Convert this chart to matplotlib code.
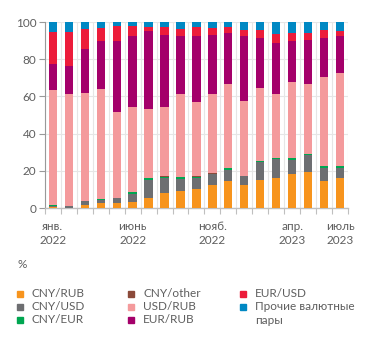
import matplotlib
matplotlib.use('Agg')
import matplotlib.pyplot as plt
import numpy as np

plt.rcParams['font.family'] = ['Lato', 'DejaVu Sans']

months = ['янв.\n2022', '', '', '', '', 'июнь\n2022', '', '', '', '', 'нояб.\n2022', '',
          '', '', '', 'апр.\n2023', '', '', 'июль\n2023']

cny_rub = [0.7, 0.3, 1.6, 2.7, 2.7, 3.4, 5.2, 8.2, 9.4, 10.3, 12.3, 14.4, 12.3, 15.2, 16.2, 18.4, 19.3, 14.6, 16.2]
cny_usd = [0.7, 0.8, 2.1, 1.9, 2.6, 4.3, 10.1, 8.0, 6.5, 5.9, 6.1, 5.9, 4.8, 9.4, 10.0, 7.6, 9.0, 6.8, 5.2]
cny_eur = [0.1, 0.1, 0.1, 0.1, 0.1, 0.7, 0.7, 0.7, 0.9, 0.7, 0.2, 1.1, 0.3, 0.7, 0.5, 0.7, 0.7, 1.2, 1.2]
cny_other = [0.1] * 19
usd_rub = [61.7, 59.8, 58.0, 59.2, 46.0, 45.7, 36.9, 37.2, 44.6, 40.0, 42.6, 45.2, 40.1, 39.1, 34.3, 40.9, 37.6, 47.9, 50.0]
eur_rub = [14.2, 15.4, 23.7, 26.0, 38.5, 38.5, 42.0, 39.0, 31.0, 35.7, 31.9, 27.4, 35.1, 27.1, 27.8, 22.1, 23.7, 21.0, 20.0]
eur_usd = [17.3, 18.3, 10.5, 7.0, 8.0, 5.0, 2.5, 4.3, 3.9, 4.4, 3.8, 3.2, 3.2, 4.1, 4.9, 4.5, 3.9, 4.3, 2.5]
other = [5.2, 5.2, 3.9, 3.0, 2.0, 2.3, 2.5, 2.5, 3.6, 2.9, 3.0, 2.7, 4.1, 4.3, 6.2, 5.7, 5.7, 4.1, 4.8]

series = [cny_rub, cny_usd, cny_eur, cny_other, usd_rub, eur_rub, eur_usd, other]
names = ['CNY/RUB', 'CNY/USD', 'CNY/EUR', 'CNY/other', 'USD/RUB', 'EUR/RUB', 'EUR/USD',
         'Прочие валютные\nпары']
colors = ['#F7941D', '#6D6E71', '#00A651', '#8B4A3A', '#F49A9C', '#A4006A', '#EC1C3A', '#0088C3']

txt = '#5E5E5E'
grid = '#E6E6E6'

fig = plt.figure(figsize=(3.71, 3.44), dpi=100)
ax = fig.add_axes([0.121, 0.395, 0.817, 0.541])

x = np.arange(len(months))
bottom = np.zeros(len(months))
for vals, c in zip(series, colors):
    ax.bar(x, vals, bottom=bottom, width=0.52, color=c, zorder=3)
    bottom += np.array(vals)

ax.set_xlim(-0.5, 18.5)
ax.set_ylim(0, 100)
ax.set_yticks([0, 20, 40, 60, 80, 100])
ax.set_xticks(x)
ax.set_xticklabels(months, fontsize=8.5, color=txt, linespacing=1.4)
ax.set_xticks(np.arange(-0.5, 19, 1), minor=True)
ax.tick_params(axis='x', which='major', length=0, pad=9)
ax.tick_params(axis='x', which='minor', length=4, color='#BFBFBF', width=0.8)
ax.tick_params(axis='y', length=4, color='#999999', width=0.8, labelsize=8.5,
               labelcolor=txt, pad=2)
ax.grid(axis='y', color=grid, linewidth=0.8, zorder=0)
ax.grid(axis='x', which='minor', color=grid, linewidth=0.8, zorder=0)
for s in ['top', 'right']:
    ax.spines[s].set_visible(False)
ax.spines['left'].set_color('#999999')
ax.spines['bottom'].set_color('#BFBFBF')
ax.spines['left'].set_linewidth(0.8)
ax.spines['bottom'].set_linewidth(1.0)

fig.text(22 / 371, 1 - 265 / 344, '%', fontsize=8.5, color=txt, va='center', ha='center')

# legend
col_x = [20, 131, 243]
row_y = [294, 307, 320]
for i, (n, c) in enumerate(zip(names, colors)):
    cx = col_x[i // 3]
    cy = row_y[i % 3]
    fig.patches.append(plt.Rectangle(((cx - 3) / 371, 1 - (cy + 3) / 344), 6 / 371, 6 / 344,
                                     color=c, transform=fig.transFigure, figure=fig))
    fig.text((cx + 12) / 371, 1 - (cy - 6) / 344, n, fontsize=8.5, color=txt,
             va='top', ha='left', linespacing=1.3)

fig.savefig('out.png', dpi=100)
